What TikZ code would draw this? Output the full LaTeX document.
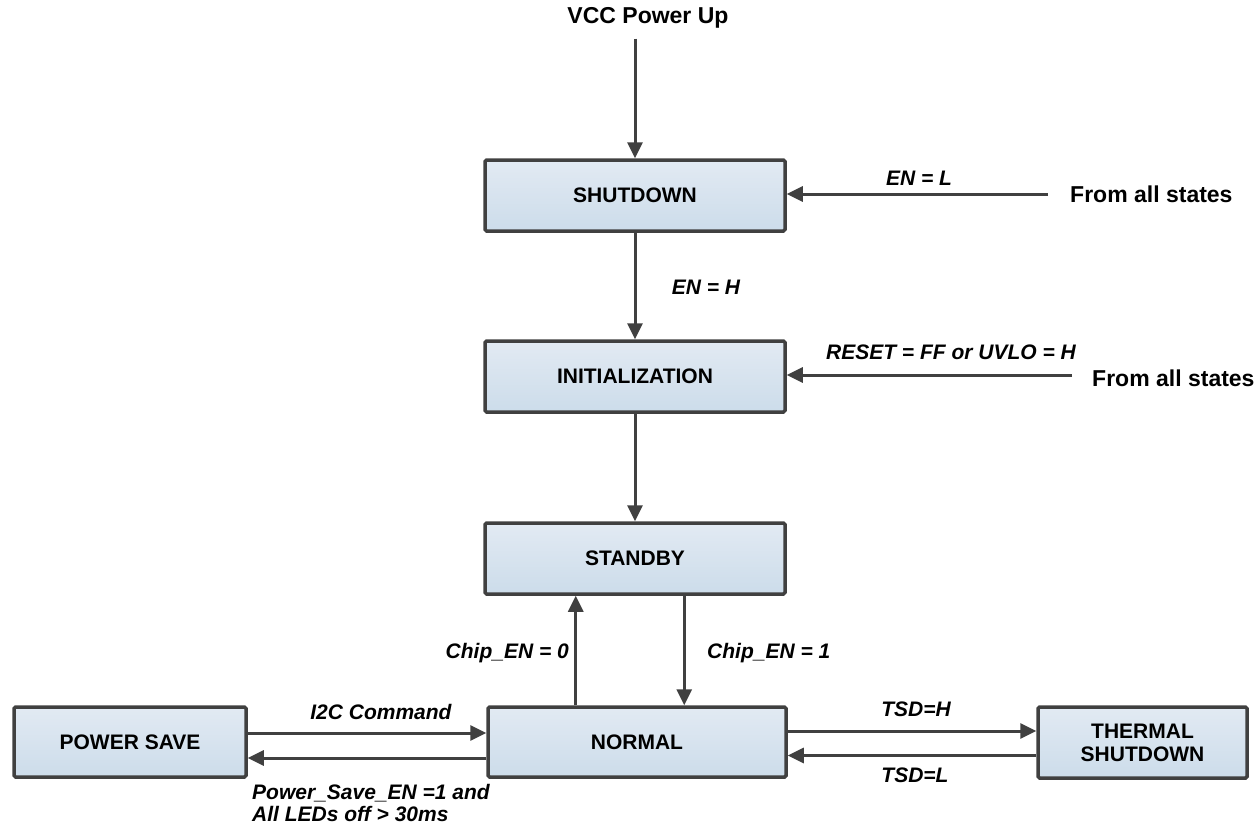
\documentclass[tikz,border=0pt]{standalone}
\usepackage{fontspec}
\setmainfont{Liberation Sans}
\usetikzlibrary{arrows.meta}
\definecolor{edge}{RGB}{64,64,64}
\definecolor{boxtop}{RGB}{226,234,243}
\definecolor{boxbot}{RGB}{204,220,234}
\tikzset{
  state/.style={draw=edge, line width=3.5pt, top color=boxtop, bottom color=boxbot,
    rounded corners=1.5pt, font=\fontsize{21}{23}\selectfont\bfseries, align=center, inner sep=0pt},
  conn/.style={draw=edge, line width=3pt, -{Triangle[length=16pt,width=15pt]}},
  lbl/.style={font=\fontsize{21}{22}\selectfont\bfseries\itshape, inner sep=0pt, align=left},
  big/.style={font=\fontsize{23}{26}\selectfont\bfseries, inner sep=0pt}
}
\begin{document}
\begin{tikzpicture}[x=1pt,y=-1pt]
\useasboundingbox (0,0) rectangle (1260,825);
% states
\node[state, minimum width=300pt, minimum height=71pt] (shutdown) at (635,195.5) {SHUTDOWN};
\node[state, minimum width=300pt, minimum height=71pt] (init) at (635,376.5) {INITIALIZATION};
\node[state, minimum width=300pt, minimum height=71pt] (standby) at (635,558.5) {STANDBY};
\node[state, minimum width=298pt, minimum height=70pt] (normal) at (637,742) {NORMAL};
\node[state, minimum width=232pt, minimum height=70pt] (psave) at (130,742) {POWER SAVE};
\node[state, minimum width=209pt, minimum height=71pt] (thermal) at (1142.5,742.5) {THERMAL\\SHUTDOWN};
% free texts
\node[big] (vcc) at (648,18) {VCC Power Up};
\node[big, anchor=west] (from1) at (1070,194) {From all states};
\node[big, anchor=west] (from2) at (1092,378) {From all states};
% connectors
\draw[conn, shorten <=10pt] (shutdown.north |- vcc.south) -- (shutdown.north);
\draw[conn, shorten <=22pt] (from1.west) -- (from1.west -| shutdown.east);
\draw[conn] (shutdown.south) -- (init.north);
\draw[conn, shorten <=20pt] (from2.west |- 0,375) -- (init.east |- 0,375);
\draw[conn] (init.south) -- (standby.north);
\draw[conn] ([xshift=89.5pt]normal.north west) -- ([xshift=89.5pt]normal.north west |- standby.south);
\draw[conn] ([xshift=201pt]standby.south west) -- ([xshift=201pt]standby.south west |- normal.north);
\draw[conn] ([yshift=9pt]psave.east) -- ([yshift=9pt]psave.east -| normal.west);
\draw[conn] ([yshift=-16pt]normal.west) -- ([yshift=-16pt]normal.west -| psave.east);
\draw[conn] ([yshift=11pt]normal.east) -- ([yshift=11pt]normal.east -| thermal.west);
\draw[conn] ([yshift=-13pt]thermal.west) -- ([yshift=-13pt]thermal.west -| normal.east);
% labels
\node[lbl] (l1) at (919,178) {EN = L};
\node[lbl] (l2) at (706,287) {EN = H};
\node[lbl] (l3) at (951,352) {RESET = FF or UVLO = H};
\node[lbl, anchor=east] (l4) at (569,653) {Chip\_EN = 0};
\node[lbl, anchor=west] (l5) at (707,653) {Chip\_EN = 1};
\node[lbl] (l6) at (381,712) {I2C Command};
\node[lbl, anchor=west] (l7) at (252,803) {Power\_Save\_EN =1 and\\All LEDs off > 30ms};
\node[lbl] (l8) at (916,709) {TSD=H};
\node[lbl] (l9) at (915,775) {TSD=L};
\end{tikzpicture}
\end{document}
